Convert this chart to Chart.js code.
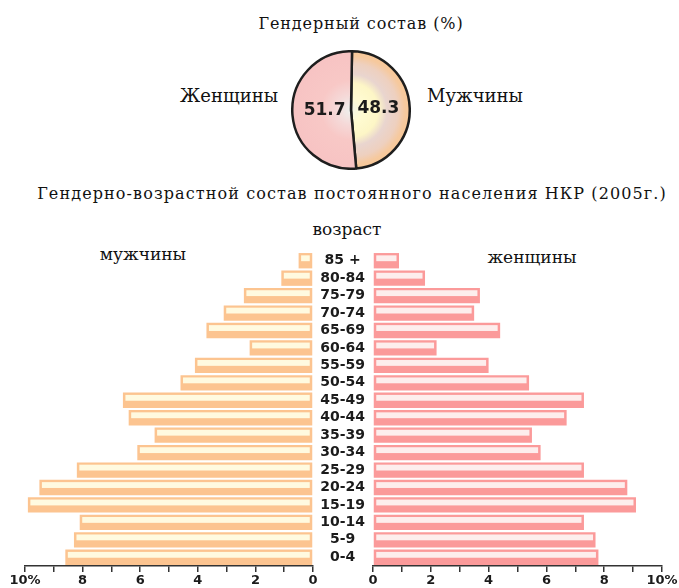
<!DOCTYPE html>
<html>
<head>
<meta charset="utf-8">
<script src="https://cdn.jsdelivr.net/npm/chart.js@4"></script>
<style>
body { margin: 0; background: #fff; }
#page { position: relative; width: 679px; height: 588px; overflow: hidden; }
.txt { position: absolute; transform: translate(-50%, -50%); white-space: nowrap;
       font-family: "DejaVu Serif", "Liberation Serif", serif; color: #111; }
canvas { position: absolute; }
</style>
</head>
<body>
<div id="page">
  <div class="txt" style="left:361px; top:23px; font-size:16px; letter-spacing:0.9px;">Гендерный состав (%)</div>
  <div class="txt" style="left:229px; top:95px; font-size:18px;">Женщины</div>
  <div class="txt" style="left:475px; top:95px; font-size:18px;">Мужчины</div>
  <div class="txt" style="left:352px; top:193px; font-size:16px; letter-spacing:1.1px;">Гендерно-возрастной состав постоянного населения НКР (2005г.)</div>
  <div class="txt" style="left:347px; top:229px; font-size:17px;">возраст</div>
  <div class="txt" style="left:143px; top:254px; font-size:17px;">мужчины</div>
  <div class="txt" style="left:532px; top:257px; font-size:17px;">женщины</div>

  <div style="position:absolute; left:291px; top:50px; width:120px; height:120px;"><canvas id="pie"></canvas></div>
  <div style="position:absolute; left:0px; top:240px; width:330px; height:348px;"><canvas id="men"></canvas></div>
  <div style="position:absolute; left:313px; top:240px; width:366px; height:348px;"><canvas id="women"></canvas></div>
</div>
<script>
// gender split, %
var genderLabels = ["Мужчины", "Женщины"];
var genderShare = [48.3, 51.7];

// age groups, youngest first (drawn bottom to top)
var ages = ["0-4", "5-9", "10-14", "15-19", "20-24", "25-29", "30-34", "35-39", "40-44",
            "45-49", "50-54", "55-59", "60-64", "65-69", "70-74", "75-79", "80-84", "85 +"];
var menPct =   [8.6, 8.3, 8.1, 9.9, 9.5, 8.2, 6.1, 5.5, 6.4, 6.6, 4.6, 4.1, 2.2, 3.7, 3.1, 2.4, 1.1, 0.5];
var womenPct = [7.8, 7.7, 7.3, 9.1, 8.8, 7.3, 5.8, 5.5, 6.7, 7.3, 5.4, 4.0, 2.2, 4.4, 3.5, 3.7, 1.8, 0.9];

var xTicks = [0, 2, 4, 6, 8, 10];

// light stripe in the upper half of every bar
var stripePlugin = {
    id: "stripe",
    afterDatasetsDraw: function(chart) {
        var ctx = chart.ctx;
        var meta = chart.getDatasetMeta(0);
        ctx.save();
        ctx.fillStyle = chart.options.plugins.stripe.color;
        meta.data.forEach(function(bar) {
            var p = bar.getProps(["x", "y", "base", "height"], true);
            var x1 = Math.min(p.x, p.base) + 2.5;
            var x2 = Math.max(p.x, p.base) - 2.5;
            var top = p.y - p.height / 2 + p.height * 0.15;
            ctx.fillRect(x1, top, x2 - x1, p.height * 0.38);
        });
        ctx.restore();
    }
};

// numbers on the pie
var pieLabels = {
    id: "pieLabels",
    afterDatasetsDraw: function(chart) {
        var ctx = chart.ctx;
        var meta = chart.getDatasetMeta(0);
        ctx.save();
        ctx.font = "bold 17px 'DejaVu Sans', sans-serif";
        ctx.fillStyle = "#1b1b1b";
        ctx.textAlign = "center";
        ctx.textBaseline = "middle";
        meta.data.forEach(function(arc, i) {
            var pos = arc.tooltipPosition();
            var shift = i == 0 ? -2 : 3;
            ctx.fillText(String(genderShare[i]), pos.x + shift, pos.y);
        });
        ctx.restore();
    }
};

function radial(chart, stops) {
    var a = chart.chartArea;
    if (!a) return stops[stops.length - 1][1];
    var cx = (a.left + a.right) / 2, cy = (a.top + a.bottom) / 2;
    var r = Math.min(a.right - a.left, a.bottom - a.top) / 2;
    var g = chart.ctx.createRadialGradient(cx, cy, 0, cx, cy, r);
    stops.forEach(function(s) { g.addColorStop(s[0], s[1]); });
    return g;
}

new Chart(document.getElementById("pie"), {
    type: "pie",
    data: {
        labels: genderLabels,
        datasets: [{
            data: genderShare,
            backgroundColor: function(c) {
                if (c.dataIndex == 0) {
                    return radial(c.chart, [[0, "#f4f6e8"], [0.2, "#fffbd2"], [0.45, "#fdf6c6"],
                                            [0.6, "#e9d5cf"], [0.78, "#eed0bf"], [0.9, "#f6c99e"], [1, "#f9c896"]]);
                }
                return radial(c.chart, [[0, "#eef1ee"], [0.25, "#f5d9d8"], [0.5, "#f8c8c6"], [1, "#f7c3c3"]]);
            },
            borderColor: "#1e1e1e",
            borderWidth: 2.5
        }]
    },
    options: {
        responsive: true,
        maintainAspectRatio: false,
        animation: false,
        rotation: 1,
        layout: { padding: 0 },
        plugins: { legend: { display: false }, tooltip: { enabled: false } }
    },
    plugins: [pieLabels]
});

function xAxis(reverse) {
    return {
        type: "linear",
        min: 0,
        max: 10,
        reverse: reverse,
        afterFit: function(s) { s.height = 22; },
        border: { display: true, color: "#333", width: 1.5 },
        grid: { display: true, drawOnChartArea: false, drawTicks: true, tickLength: 6, color: "#333", lineWidth: 1.5 },
        ticks: {
            stepSize: 1,
            padding: 1,
            maxRotation: 0,
            autoSkip: false,
            color: "#1b1b1b",
            font: { family: "'DejaVu Sans', sans-serif", weight: "bold", size: 13 },
            callback: function(v) {
                if (xTicks.indexOf(v) < 0) return "";
                return v == 10 ? "10%" : String(v);
            }
        }
    };
}

new Chart(document.getElementById("men"), {
    type: "bar",
    data: {
        labels: ages,
        datasets: [{
            data: menPct,
            backgroundColor: "#fcc490",
            barPercentage: 0.88,
            categoryPercentage: 1.0
        }]
    },
    options: {
        indexAxis: "y",
        responsive: true,
        maintainAspectRatio: false,
        animation: false,
        layout: { padding: { left: 25, right: 17, top: 12, bottom: 0 } },
        scales: {
            x: xAxis(true),
            y: { display: false, reverse: true }
        },
        plugins: { legend: { display: false }, tooltip: { enabled: false }, stripe: { color: "#fffae0" } }
    },
    plugins: [stripePlugin]
});

new Chart(document.getElementById("women"), {
    type: "bar",
    data: {
        labels: ages,
        datasets: [{
            data: womenPct,
            backgroundColor: "#fb9a9a",
            barPercentage: 0.88,
            categoryPercentage: 1.0
        }]
    },
    options: {
        indexAxis: "y",
        responsive: true,
        maintainAspectRatio: false,
        animation: false,
        layout: { padding: { left: 0, right: 17, top: 12, bottom: 0 } },
        scales: {
            x: xAxis(false),
            y: {
                reverse: true,
                afterFit: function(s) { s.width = 60; },
                border: { display: false },
                grid: { display: false },
                ticks: {
                    autoSkip: false,
                    crossAlign: "center",
                    padding: 0,
                    color: "#1b1b1b",
                    font: { family: "'DejaVu Sans', sans-serif", weight: "bold", size: 14 }
                }
            }
        },
        plugins: { legend: { display: false }, tooltip: { enabled: false }, stripe: { color: "#fdeeed" } }
    },
    plugins: [stripePlugin]
});
</script>
</body>
</html>
